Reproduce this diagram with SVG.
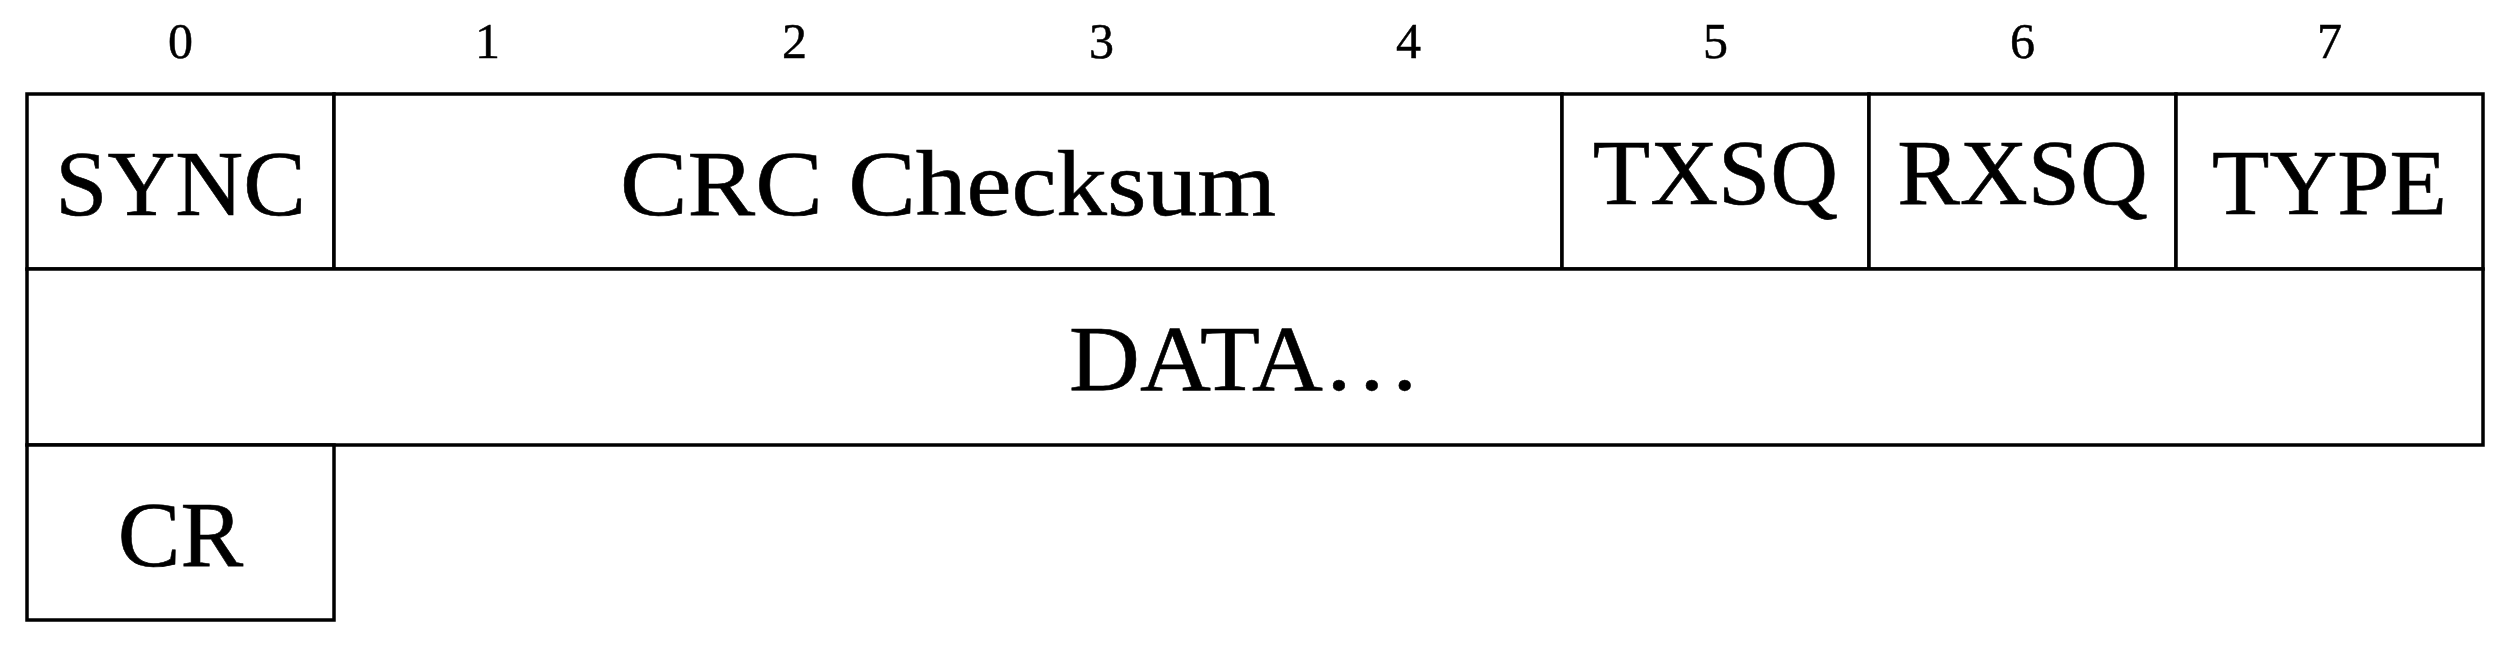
<svg xmlns="http://www.w3.org/2000/svg" width="2502" height="656" viewBox="0 0 2502 656">
<style>
.cell{fill:#fff;stroke:#000;stroke-width:3.5;stroke-linejoin:miter}
.lbl{font-family:"Liberation Serif",serif;font-size:94px;fill:#000;text-anchor:middle;stroke:#000;stroke-width:0.6}
.idx{font-family:"Liberation Serif",serif;font-size:50px;fill:#000;text-anchor:middle;stroke:#000;stroke-width:0.5}
</style>
<rect width="2502" height="656" fill="#fff"/>
<g id="header">
<text class="idx" x="180.5" y="58">0</text>
<text class="idx" x="487.5" y="58">1</text>
<text class="idx" x="794.5" y="58">2</text>
<text class="idx" x="1101.5" y="58">3</text>
<text class="idx" x="1408.5" y="58">4</text>
<text class="idx" x="1715.5" y="58">5</text>
<text class="idx" x="2022.5" y="58">6</text>
<text class="idx" x="2329.5" y="58">7</text>
</g>
<g id="sync"><rect class="cell" x="27" y="94" width="307" height="175"/><text class="lbl" x="180.5" y="215">SYNC</text></g>
<g id="crc"><rect class="cell" x="334" y="94" width="1228" height="175"/><text class="lbl" x="948" y="215" textLength="656" lengthAdjust="spacingAndGlyphs">CRC Checksum</text></g>
<g id="txsq"><rect class="cell" x="1562" y="94" width="307" height="175"/><text class="lbl" x="1715.5" y="204">TXSQ</text></g>
<g id="rxsq"><rect class="cell" x="1869" y="94" width="307" height="175"/><text class="lbl" x="2022.5" y="204">RXSQ</text></g>
<g id="type"><rect class="cell" x="2176" y="94" width="307" height="175"/><text class="lbl" x="2329.5" y="214">TYPE</text></g>
<g id="data"><rect class="cell" x="27" y="269" width="2456" height="176"/><text class="lbl" x="1245" y="390" textLength="352" lengthAdjust="spacingAndGlyphs">DATA…</text></g>
<g id="cr"><rect class="cell" x="27" y="445" width="307" height="175"/><text class="lbl" x="180.5" y="566">CR</text></g>
<g id="connectors"/>
</svg>
